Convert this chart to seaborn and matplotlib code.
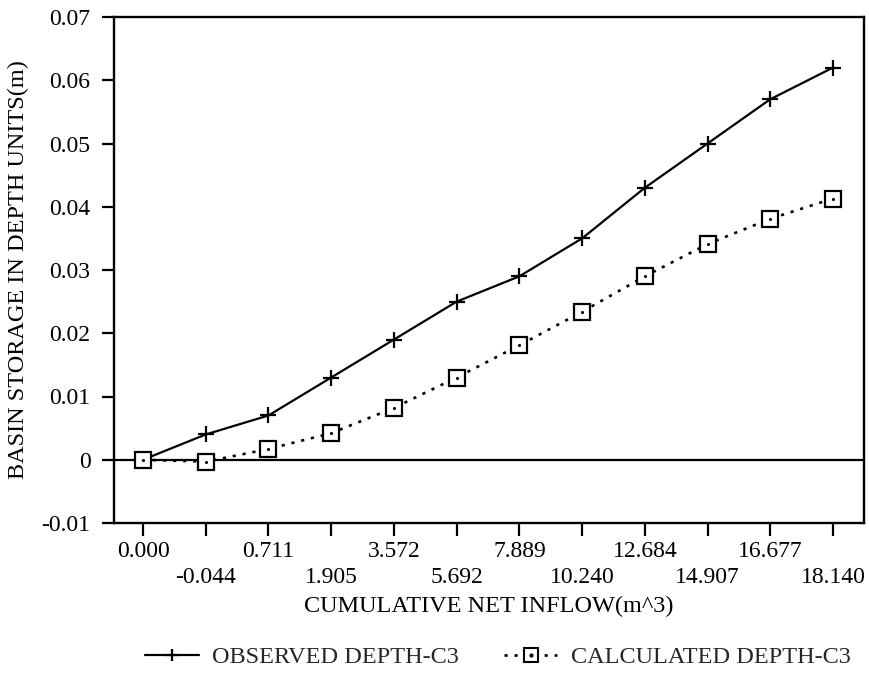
import matplotlib
matplotlib.use("Agg")
import matplotlib.pyplot as plt
from matplotlib.lines import Line2D
from matplotlib.legend_handler import HandlerTuple
import numpy as np
import pandas as pd
import seaborn as sns

# Cumulative net inflow (m^3) at each observation step, in recorded order
inflow_labels = ["0.000", "-0.044", "0.711", "1.905", "3.572", "5.692",
                 "7.889", "10.240", "12.684", "14.907", "16.677", "18.140"]

# Basin storage expressed as depth (m)
observed_depth = [0.0, 0.004, 0.007, 0.013, 0.019, 0.025,
                  0.029, 0.035, 0.043, 0.050, 0.057, 0.062]
calculated_depth = [0.0, -0.0003, 0.0017, 0.0042, 0.0082, 0.013,
                    0.0181, 0.0234, 0.029, 0.0341, 0.0381, 0.0413]

y_ticks = [-0.01, 0, 0.01, 0.02, 0.03, 0.04, 0.05, 0.06, 0.07]
y_tick_labels = ["-0.01", "0", "0.01", "0.02", "0.03", "0.04", "0.05", "0.06", "0.07"]

sns.set_theme(style="white")
plt.rcParams["font.family"] = ["Liberation Serif", "DejaVu Serif"]

step = np.arange(len(inflow_labels))
df = pd.DataFrame({"step": step,
                   "observed": observed_depth,
                   "calculated": calculated_depth})

fig = plt.figure(figsize=(8.69, 6.87), dpi=100)
ax = fig.add_axes([114 / 869, 1 - 523 / 687, 750 / 869, 506 / 687])

sns.lineplot(data=df, x="step", y="observed", ax=ax, color="black",
             linewidth=1.6, marker="+", markersize=11, markeredgewidth=1.6,
             markeredgecolor="black")
sns.lineplot(data=df, x="step", y="calculated", ax=ax, color="black",
             linewidth=1.9, linestyle=(0, (1.2, 2.6)), marker="s",
             markersize=12, markerfacecolor="white", markeredgecolor="black",
             markeredgewidth=1.6)
# small dot inside each square marker
sns.scatterplot(data=df, x="step", y="calculated", ax=ax, color="black",
                marker="o", s=5, linewidth=0, zorder=5)

ax.axhline(0, color="black", linewidth=1.6, zorder=1)

ax.set_xlim(-0.4625, 11.494)
ax.set_ylim(-0.01, 0.07)
ax.set_yticks(y_ticks)
ax.set_yticklabels(y_tick_labels)
ax.set_xticks(step)
ax.set_xticklabels([lab if i % 2 == 0 else "\n" + lab
                    for i, lab in enumerate(inflow_labels)])
for t in ax.get_xticklabels():
    t.set_linespacing(1.3)

ax.tick_params(axis="both", which="major", direction="out", length=9,
               width=1.6, color="black", labelsize=17, labelcolor="black",
               bottom=True, left=True)
ax.tick_params(axis="x", pad=4)
ax.tick_params(axis="y", pad=8)

for s in ax.spines.values():
    s.set_visible(True)
    s.set_color("black")
    s.set_linewidth(1.7)

ax.set_xlabel("CUMULATIVE NET INFLOW(m^3)", fontsize=17.5, color="black")
ax.set_ylabel("BASIN STORAGE IN DEPTH UNITS(m)", fontsize=17.5, color="black")
ax.xaxis.set_label_coords(0.5, -0.145)
ax.yaxis.set_label_coords(-0.113, 0.5)

obs_handle = Line2D([], [], color="black", linewidth=1.6, marker="+",
                    markersize=9, markeredgewidth=1.6)
calc_line = Line2D([], [], color="black", linewidth=1.9,
                   linestyle=(0, (1.2, 2.6)), marker="s", markersize=10,
                   markerfacecolor="white", markeredgecolor="black",
                   markeredgewidth=1.5)
calc_dot = Line2D([], [], color="black", linestyle="none", marker="o",
                  markersize=2)
fig.legend([obs_handle, (calc_line, calc_dot)],
           ["OBSERVED DEPTH-C3", "CALCULATED DEPTH-C3"],
           handler_map={tuple: HandlerTuple(ndivide=1, pad=0)},
           loc="center", bbox_to_anchor=(498 / 869, 1 - 657 / 687),
           ncol=2, frameon=False, fontsize=17.5, handlelength=2.2,
           columnspacing=1.85, handletextpad=0.55)

fig.savefig("out.png", dpi=100, facecolor="white")
